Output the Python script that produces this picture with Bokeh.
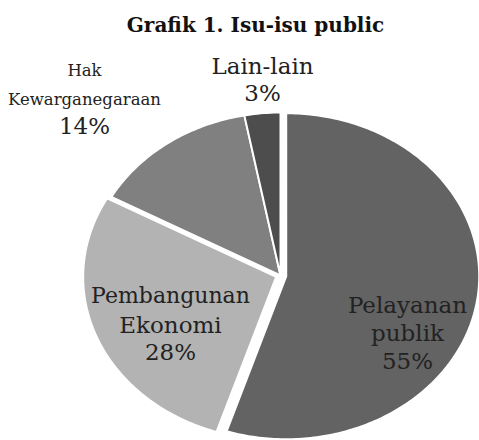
import numpy as np
from bokeh.plotting import figure
from bokeh.models import Range1d, Label, ColumnDataSource
from bokeh.embed import file_html
from bokeh.resources import INLINE

# ---- data ----
title_text = "Grafik 1. Isu-isu public"
categories = ["Pelayanan publik", "Pembangunan Ekonomi", "Hak Kewarganegaraan", "Lain-lain"]
values = [55, 28, 14, 3]

# ---- style ----
colors = ["#636363", "#b3b3b3", "#808080", "#4d4d4d"]
explode = [0.03, 0.024, 0.0, 0.0]

W, H = 479, 440
CX, CY = 280, 275      # pie centre in px (from left / top)
RX, RY = 193, 163      # elliptical radii in px (stretched pie)

p = figure(width=W, height=H, output_backend="svg", toolbar_location=None,
           x_range=Range1d(-CX / RX, (W - CX) / RX),
           y_range=Range1d(-(H - CY) / RY, CY / RY),
           x_axis_location=None, y_axis_location=None,
           min_border=0, tools="")
p.grid.visible = False
p.outline_line_color = None
p.background_fill_color = "white"
p.border_fill_color = "white"

total = float(sum(values))
fr = np.cumsum([0] + values) / total
xs, ys = [], []
for i, v in enumerate(values):
    a0, a1 = 2 * np.pi * fr[i], 2 * np.pi * fr[i + 1]
    t = np.linspace(a0, a1, max(int(v * 4), 10))
    mid = (a0 + a1) / 2
    ox, oy = explode[i] * np.sin(mid), explode[i] * np.cos(mid)
    xs.append([ox] + list(ox + np.sin(t)))
    ys.append([oy] + list(oy + np.cos(t)))

src = ColumnDataSource(dict(xs=xs, ys=ys, color=colors, cat=categories, val=values))
p.patches("xs", "ys", source=src, fill_color="color", line_color="white",
          line_width=2, line_join="miter")

# ---- labels (layout in px: centre x, baselines from top, font sizes) ----
SHIFT = 8
label_layout = [
    (407, [312, 340, 368], [23, 23, 23]),
    (170, [303, 332, 359], [22, 23, 23]),
    (84, [78, 107, 133], [16.5, 16.5, 23]),
    (262, [73, 100], [23, 23]),
]
TXT = "#222222"
for cat, v, (lx, bases, sizes) in zip(categories, values, label_layout):
    lines = cat.split(" ") + [f"{v}%"]
    for line, b, s in zip(lines, bases, sizes):
        p.add_layout(Label(x=lx, y=H - b + SHIFT, x_units="screen", y_units="screen",
                           text=line, text_align="center", text_baseline="alphabetic",
                           text_font="DejaVu Serif", text_font_size=f"{s}px",
                           text_color=TXT))

p.add_layout(Label(x=255, y=H - 32 + SHIFT, x_units="screen", y_units="screen",
                   text=title_text, text_align="center", text_baseline="alphabetic",
                   text_font="DejaVu Serif", text_font_style="bold",
                   text_font_size="20px", text_color="#111111"))

open("out.html", "w").write(file_html(p, INLINE))
